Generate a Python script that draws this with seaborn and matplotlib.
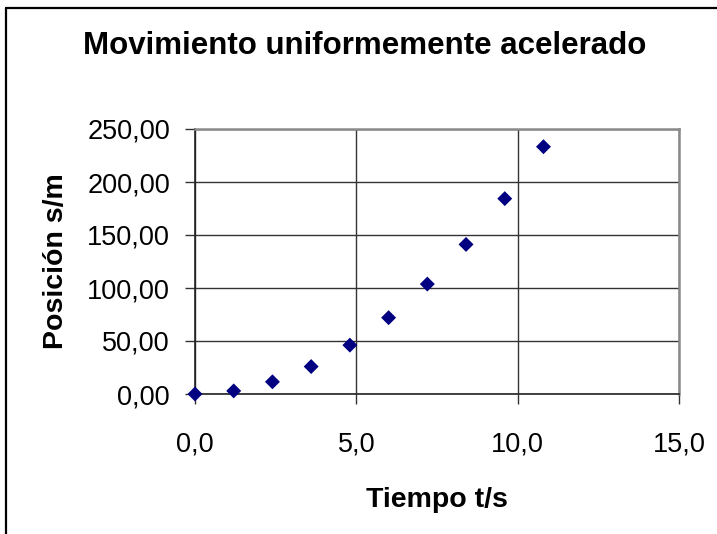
import matplotlib
matplotlib.use("Agg")
import matplotlib.pyplot as plt
from matplotlib.lines import Line2D
from matplotlib.ticker import FuncFormatter, MultipleLocator
import seaborn as sns
import pandas as pd

tiempo = [0.0, 1.2, 2.4, 3.6, 4.8, 6.0, 7.2, 8.4, 9.6, 10.8]
posicion = [0.0, 2.9, 11.5, 25.9, 46.1, 72.0, 103.7, 141.1, 184.3, 233.3]
title = "Movimiento uniformemente acelerado"
xlabel = "Tiempo t/s"
ylabel = "Posición s/m"

df = pd.DataFrame({"t": tiempo, "s": posicion})

sns.set_style("white")
plt.rcParams["font.family"] = ["Liberation Sans", "DejaVu Sans"]
plt.rcParams["text.color"] = "black"
plt.rcParams["axes.labelcolor"] = "black"
plt.rcParams["xtick.color"] = "black"
plt.rcParams["ytick.color"] = "black"

fig = plt.figure(figsize=(7.17, 5.34), dpi=100)
ax = fig.add_axes([195/717, 1-394/534, (679-195)/717, (394-129)/534])

sns.scatterplot(data=df, x="t", y="s", ax=ax, marker="D", s=58,
                color="#000080", edgecolor="none", linewidth=0, zorder=5,
                clip_on=False)

ax.set_xlim(0, 15)
ax.set_ylim(0, 250)
ax.xaxis.set_major_locator(MultipleLocator(5))
ax.yaxis.set_major_locator(MultipleLocator(50))
ax.xaxis.set_major_formatter(FuncFormatter(lambda v, p: f"{v:.1f}".replace(".", ",")))
ax.yaxis.set_major_formatter(FuncFormatter(lambda v, p: f"{v:.2f}".replace(".", ",")))

ax.grid(True, color="#333333", linewidth=1.0)
ax.set_axisbelow(True)
for side in ["left", "bottom"]:
    ax.spines[side].set_color("#222222")
    ax.spines[side].set_linewidth(1.2)
for side in ["top", "right"]:
    ax.spines[side].set_color("#8a8a8a")
    ax.spines[side].set_linewidth(1.8)

ax.tick_params(axis="y", direction="out", length=7, width=1, color="#333333",
               labelsize=19.5, labelcolor="black", pad=11, left=True)
ax.tick_params(axis="x", direction="out", length=7, width=1, color="#333333",
               labelsize=19.5, labelcolor="black", pad=20, bottom=True)

ax.set_xlabel(xlabel, fontsize=20.5, fontweight="bold", labelpad=21, color="black")
ax.set_ylabel(ylabel, fontsize=20.5, fontweight="bold", labelpad=13, color="black")

fig.text(365/717, 1-46/534, title, fontsize=22.5, fontweight="bold",
         ha="center", va="center", color="black")

# chart-area border (left and top edges visible)
fig.add_artist(Line2D([6/717, 6/717], [0, 1-8/534], transform=fig.transFigure,
                      color="black", linewidth=1.6))
fig.add_artist(Line2D([6/717, 1], [1-8/534, 1-8/534], transform=fig.transFigure,
                      color="black", linewidth=1.6))

fig.savefig("out.png", dpi=100, facecolor="white")
